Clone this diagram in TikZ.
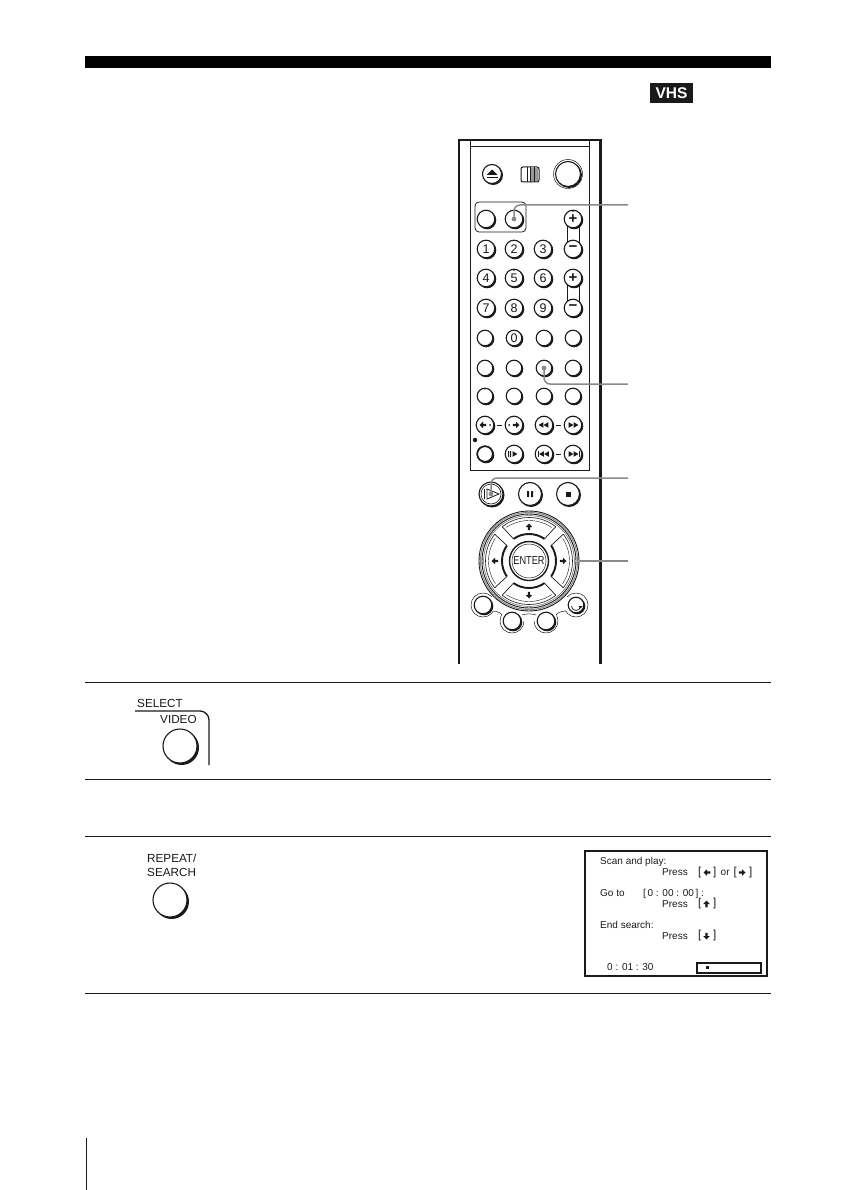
\documentclass[tikz,border=0pt]{standalone}
\usepackage{fontspec}
\setmainfont{Liberation Sans}
\usetikzlibrary{calc}
\definecolor{ink}{HTML}{1A1A1A}
\definecolor{leadgray}{HTML}{8A8A8A}
\tikzset{
  rule/.style={
    draw=ink,
    line width=1pt
  },
  btn/.style={
    circle,
    draw=ink,
    fill=white,
    line width=1.1pt,
    inner sep=0pt,
    outer sep=0pt,
    text=ink,
    font=\fontsize{12.5}{13}\selectfont
  },
  leader/.style={
    draw=leadgray,
    line width=1.5pt,
    rounded corners=6pt
  },
  printed/.style={
    text=ink,
    inner sep=0pt,
    anchor=west,
    font=\fontsize{11.7}{12}\selectfont
  },
  osd/.style={
    text=ink,
    inner sep=0pt,
    anchor=west,
    font=\fontsize{10}{11}\selectfont
  },
  bracket/.style={
    text=ink,
    inner sep=0pt,
    anchor=west,
    font=\fontsize{11.5}{12}\selectfont
  },
  dash link/.style={
    draw=ink,
    line width=.9pt,
    shorten <=3pt,
    shorten >=3pt
  }
}
% button with its dark lower right edge
\newcommand{\remotebtn}[5]{%
  \fill[ink] (#2+1.1,#3+1.1) circle (#4+.4);
  \node[btn,minimum size=#4*2pt] (#1) at (#2,#3) {#5};
}
\newcommand{\pointtip}[3]{%
  \fill[ink,shift={(#1,#2)},rotate=#3] (-2.4,-2.8) -- (2.4,0) -- (-2.4,2.8) -- cycle;
}
\newcommand{\fatarrow}[3]{%
  \fill[ink,shift={(#1,#2)},rotate=#3,scale=1.35] (-2.4,-.8) -- (0,-.8) -- (0,-2.4) -- (2.6,0)
    -- (0,2.4) -- (0,.8) -- (-2.4,.8) -- cycle;
}
\newcommand{\dialpad}[1]{%
  \begin{scope}[shift={(dial.center)},rotate=#1]
    \draw[ink,line width=.6pt] (-38:43.5) arc[start angle=-38,end angle=38,radius=43.5];
    \draw[ink,line width=.4pt] (-34:40.5) arc[start angle=-34,end angle=34,radius=40.5];
    \draw[ink,line width=.7pt] (-38:43.5) -- (-35:27) (38:43.5) -- (35:27);
    \draw[ink,line width=1.9pt] (-35:27) arc[start angle=-35,end angle=35,radius=27];
  \end{scope}
}
\begin{document}
\begin{tikzpicture}[x=1pt,y=-1pt]
  \useasboundingbox (0,0) rectangle (840,1190);

  % --- Page rules ---
  \fill[black] (85,56) rectangle (771,68);
  \node[fill=ink,text=white,inner sep=0pt,minimum width=43pt,minimum height=20pt,
    font=\bfseries\fontsize{15.5}{16}\selectfont] (vhstag) at (671.5,93) {VHS};
  \draw[rule] (85,682) -- (771,682);
  \draw[rule] (85,779) -- (771,779);
  \draw[rule] (85,836) -- (771,836);
  \draw[rule] (85,993) -- (771,993);
  \draw[rule] (86,1138) -- (86,1190);

  % --- Remote body ---
  \draw[ink,line width=1.4pt] (459,664) -- (459,140) -- (600,140);
  \draw[ink,line width=3pt] (600,139.5) -- (600,664);
  \draw[ink,line width=.9pt] (470,140) -- (470,470) -- (589.5,470) -- (589.5,140);
  \draw[ink,line width=.9pt] (470,146) -- (589.5,146);

  % --- Top row ---
  \remotebtn{eject}{492}{174}{9.5}{}
  \fill[ink] (486.5,175) -- (492,169.5) -- (497.5,175) -- cycle;
  \fill[ink] (486.5,177) rectangle (497.5,178.5);
  \draw[ink,line width=1pt,fill=white,rounded corners=2pt] (521,167) rectangle (539,182);
  \fill[ink!45] (530,168) rectangle (538,181);
  \draw[ink,line width=.7pt] (527,167) -- (527,182) (530,167) -- (530,182) (534,167) -- (534,182);
  \draw[ink,line width=.5pt] (568,174) circle (14.5);
  \remotebtn{power}{568}{174}{12.5}{}

  % --- Number block ---
  \draw[ink,line width=.8pt,rounded corners=4pt] (475,202) rectangle (526,232);
  \draw[ink,line width=.9pt] (567,219) -- (567,249) (579,219) -- (579,249);
  \draw[ink,line width=.9pt] (567,278) -- (567,308) (579,278) -- (579,308);
  \remotebtn{tvbtn}{486}{219}{8.8}{}
  \remotebtn{videobtn}{514}{219}{8.8}{}
  \remotebtn{chup}{573}{219}{8.8}{\bfseries\fontsize{15}{15}\selectfont +}
  \remotebtn{chdown}{573}{249}{8.8}{\bfseries\fontsize{15}{15}\selectfont −}
  \remotebtn{one}{486}{249}{8.8}{1}
  \remotebtn{two}{514}{249}{8.8}{2}
  \remotebtn{three}{543}{249}{8.8}{3}
  \remotebtn{four}{486}{278}{8.8}{4}
  \remotebtn{five}{514}{278}{8.8}{5}
  \remotebtn{six}{543}{278}{8.8}{6}
  \remotebtn{volup}{573}{278}{8.8}{\bfseries\fontsize{15}{15}\selectfont +}
  \remotebtn{seven}{486}{308}{8.8}{7}
  \remotebtn{eight}{514}{308}{8.8}{8}
  \remotebtn{nine}{543}{308}{8.8}{9}
  \remotebtn{voldown}{573}{308}{8.8}{\bfseries\fontsize{15}{15}\selectfont −}
  \fill[ink!70] (514,270.5) circle (.9);
  \fill[ink!70] (573,211.5) circle (.9);

  % --- Blank rows ---
  \remotebtn{ra}{485}{338}{7.8}{}
  \remotebtn{zero}{514}{338}{7.8}{0}
  \remotebtn{rc}{544}{338}{7.8}{}
  \remotebtn{rd}{573}{338}{7.8}{}
  \remotebtn{sa}{485}{368}{7.8}{}
  \remotebtn{sb}{514}{368}{7.8}{}
  \remotebtn{searchbtn}{544}{368}{7.8}{}
  \remotebtn{sd}{573}{368}{7.8}{}
  \remotebtn{ta}{485}{396}{7.8}{}
  \remotebtn{tb}{514}{396}{7.8}{}
  \remotebtn{tc}{544}{396}{7.8}{}
  \remotebtn{td}{573}{396}{7.8}{}
  \fill[ink!70] (485,389) circle (.9);

  % --- Transport rows ---
  \remotebtn{ua}{485}{425}{8.8}{}
  \remotebtn{ub}{514}{425}{8.8}{}
  \remotebtn{uc}{544}{425}{8.8}{}
  \remotebtn{ud}{573}{425}{8.8}{}
  \draw[dash link] (ua) -- (ub);
  \draw[dash link] (uc) -- (ud);
  \fatarrow{483}{425}{180}
  \fill[ink] (490,425) circle (1);
  \fatarrow{516}{425}{0}
  \fill[ink] (509,425) circle (1);
  \pointtip{541}{425}{180}
  \pointtip{546}{425}{180}
  \pointtip{571}{425}{0}
  \pointtip{576}{425}{0}
  \fill[ink] (475,440) circle (2.2);
  \remotebtn{record}{485}{454}{7.8}{}
  \draw[ink,line width=1.6pt] (record) circle (7.8);
  \remotebtn{va}{514}{454}{8.8}{}
  \remotebtn{vb}{544}{454}{8.8}{}
  \remotebtn{vc}{573}{454}{8.8}{}
  \draw[dash link] (vb) -- (vc);
  \fill[ink] (508,451) rectangle (509,457) (510.2,451) rectangle (511.2,457);
  \pointtip{515}{454}{0}
  \fill[ink] (537.5,451) rectangle (538.5,457);
  \pointtip{541.5}{454}{180}
  \pointtip{546.5}{454}{180}
  \fill[ink] (579,451) rectangle (580,457);
  \pointtip{571}{454}{0}
  \pointtip{576}{454}{0}

  % --- Play row ---
  \remotebtn{playbtn}{491}{494}{12}{}
  \draw[ink,line width=.6pt] (playbtn) circle (10);
  \draw[ink,line width=.8pt] (484.5,489) -- (484.5,499) (487,489) -- (487,499) -- (499,494) -- cycle;
  \remotebtn{pausebtn}{530}{494}{11.5}{}
  \fill[ink] (527,491) rectangle (529,497) (531,491) rectangle (533,497);
  \remotebtn{stopbtn}{568}{494}{11.5}{}
  \fill[ink] (565.5,491.5) rectangle (570.5,496.5);

  % --- Lower buttons ---
  \coordinate (dialmid) at (529,561);
  \draw[ink,line width=.5pt] (483,605) circle (12) (512,621) circle (12)
    (546,621) circle (12) (576,605) circle (12);
  \fill[white] (529,561) -- (483,605) -- (512,621) -- (546,621) -- (576,605) -- cycle;
  \draw[ink,line width=.5pt] (493,611) .. controls (497,611) and (501,613) .. (502,615);
  \draw[ink,line width=.5pt] (566,611) .. controls (561,611) and (557,613) .. (556,615);
  \draw[ink,line width=.5pt] (522,615) .. controls (526,613.5) and (532,613.5) .. (536,615);
  \remotebtn{la}{483}{605}{8.8}{}
  \remotebtn{lb}{512}{621}{8.8}{}
  \remotebtn{lc}{546}{621}{8.8}{}
  \remotebtn{ld}{576}{605}{7.8}{}
  \draw[ink,line width=.7pt] (571.5,606) arc[start angle=180,end angle=0,radius=4.5];
  \fill[ink] (578.5,606) -- (582.5,606) -- (580.5,608.5) -- cycle;

  % --- Dial ---
  \node[circle,draw=ink,fill=white,line width=.9pt,minimum size=100pt,inner sep=0pt,outer sep=0pt]
    (dial) at (dialmid) {};
  \draw[leadgray,line width=1pt] (dial.center) circle (48.6);
  \draw[ink,line width=.9pt] (dial.center) circle (47);
  \draw[ink!70,line width=.5pt] (dial.center) circle (45.4);
  \dialpad{0}
  \dialpad{90}
  \dialpad{180}
  \dialpad{270}
  \fatarrow{529}{527}{90}
  \fatarrow{529}{595}{270}
  \fatarrow{495}{561}{180}
  \fatarrow{563}{561}{0}
  \node[circle,draw=ink,fill=white,line width=1.4pt,minimum size=39pt,inner sep=0pt,outer sep=0pt]
    (enterbtn) at (dial.center) {};
  \draw[ink,line width=.5pt] (enterbtn) circle (17);
  \node[text=ink,inner sep=0pt,xscale=.8,font=\fontsize{11.5}{12}\selectfont]
    (entertext) at (enterbtn) {ENTER};

  % --- Leaders ---
  \coordinate (videoend) at (628,205);
  \coordinate (searchend) at (628,384);
  \coordinate (playend) at (628,478);
  \coordinate (dialend) at (628,562);
  \draw[leader] (videobtn.center) |- (videoend);
  \fill[leadgray] (videobtn) circle (2.4);
  \draw[leader] (searchbtn.center) |- (searchend);
  \fill[leadgray] (searchbtn) circle (2.4);
  \draw[leader] (playbtn.center) |- (playend);
  \fill[leadgray] (playbtn) circle (2.4);
  \draw[leader,line width=1.2pt] (dial.east) -- (dialend |- dial.east);

  % --- Step 1 button ---
  \node[printed] (selecttext) at (137,703.5) {SELECT};
  \node[printed] (videotext) at (160,719.5) {VIDEO};
  \draw[ink,line width=1.3pt,rounded corners=9pt] (135,711) -- (209,711) -- (209,765);
  \fill[ink] (181.6,747.6) circle (17.4);
  \node[btn,minimum size=34pt] (selectvideo) at (180,746) {};

  % --- Step 3 button ---
  \node[printed] (repeattext) at (147,858) {REPEAT/};
  \node[printed] (searchtext) at (147,872) {SEARCH};
  \fill[ink] (171.6,901.6) circle (17.4);
  \node[btn,minimum size=34pt] (repeatsearch) at (170,900) {};

  % --- Screen ---
  \draw[ink,line width=1.8pt] (585,851) rectangle (767,976);
  \node[osd] (scanline) at (600,862) {Scan and play:};
  \node[osd] (pressa) at (662,872.5) {Press};
  \node[bracket] (opena) at (698,872.5) {[};
  \fatarrow{707}{872.5}{180}
  \node[bracket] (closea) at (713,872.5) {]};
  \node[osd] (orword) at (720.5,872.5) {or};
  \node[bracket] (openb) at (733.5,872.5) {[};
  \fatarrow{742}{872.5}{0}
  \node[bracket] (closeb) at (749,872.5) {]};
  \node[osd] (gotoline) at (600,893.5) {Go to};
  \node[osd] (timeset) at (643,893.5) {[\,0 : 00 : 00\,] :};
  \node[osd] (pressb) at (662,904) {Press};
  \node[bracket] (openc) at (698,904) {[};
  \fatarrow{706.5}{904}{90}
  \node[bracket] (closec) at (713,904) {]};
  \node[osd] (endline) at (600,925) {End search:};
  \node[osd] (pressc) at (662,936) {Press};
  \node[bracket] (opend) at (698,936) {[};
  \fatarrow{706.5}{936}{270}
  \node[bracket] (closed) at (713,936) {]};
  \node[osd] (counter) at (607,967.5) {0 : 01 : 30};
  \draw[ink,line width=1.4pt] (697,963) rectangle (761,973);
  \fill[ink] (705.5,965.5) rectangle (708.5,969);

\end{tikzpicture}
\end{document}
